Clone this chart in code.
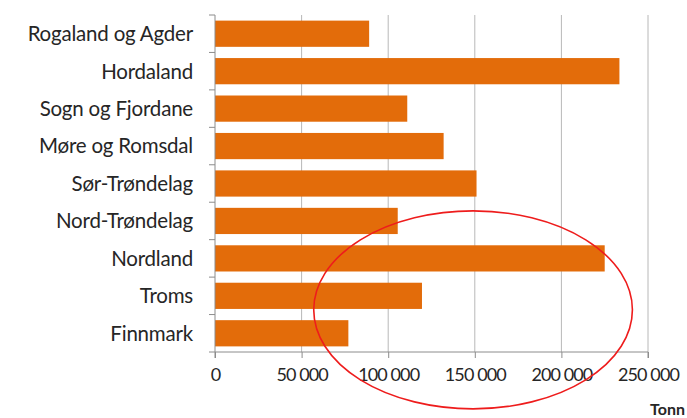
<!DOCTYPE html>
<html>
<head>
<meta charset="utf-8">
<script src="https://cdn.jsdelivr.net/npm/d3@7"></script>
<style>
  body { margin: 0; background: #fff; }
  text { font-family: Lato, "Open Sans", sans-serif; fill: #262626; }
</style>
</head>
<body>
<div id="chart"></div>
<script>
// data
const regions = [
  "Rogaland og Agder",
  "Hordaland",
  "Sogn og Fjordane",
  "Møre og Romsdal",
  "Sør-Trøndelag",
  "Nord-Trøndelag",
  "Nordland",
  "Troms",
  "Finnmark",
]
const tonn = [89000, 233500, 111000, 132000, 151000, 105500, 225000, 119500, 77000]
const xTicks = [0, 50000, 100000, 150000, 200000, 250000]

const width = 687
const height = 418
const margins = { top: 15, right: 39, bottom: 66, left: 215 }

const svg = d3
  .select("#chart")
  .append("svg")
  .attr("width", width)
  .attr("height", height)

const x = d3
  .scaleLinear()
  .domain([0, 250000])
  .range([margins.left, width - margins.right])

const y = d3
  .scaleBand()
  .domain(regions)
  .range([margins.top, height - margins.bottom])
  .paddingInner(0.3)
  .paddingOuter(0.15)

const fmt = (d) => d3.format(",")(d).replace(/,/g, "\u00a0")

// gridlines
svg
  .append("g")
  .selectAll("line")
  .data(xTicks.slice(1))
  .join("line")
  .attr("x1", (d) => x(d))
  .attr("x2", (d) => x(d))
  .attr("y1", margins.top)
  .attr("y2", height - margins.bottom)
  .attr("stroke", "#b8b8b8")
  .attr("stroke-width", 1)

// bars
svg
  .append("g")
  .selectAll("rect")
  .data(regions)
  .join("rect")
  .attr("x", x(0))
  .attr("y", (d) => y(d))
  .attr("width", (d, i) => x(tonn[i]) - x(0))
  .attr("height", y.bandwidth())
  .attr("fill", "#e36c0a")

// left axis, ticks between categories
const plotH = height - margins.bottom - margins.top
const leftAxis = svg.append("g")
leftAxis
  .append("line")
  .attr("x1", x(0))
  .attr("x2", x(0))
  .attr("y1", margins.top)
  .attr("y2", height - margins.bottom)
  .attr("stroke", "#8c8c8c")
leftAxis
  .selectAll(".tk")
  .data(d3.range(regions.length + 1))
  .join("line")
  .attr("class", "tk")
  .attr("x1", x(0) - 6)
  .attr("x2", x(0))
  .attr("y1", (i) => margins.top + (plotH / regions.length) * i)
  .attr("y2", (i) => margins.top + (plotH / regions.length) * i)
  .attr("stroke", "#8c8c8c")

leftAxis
  .selectAll("text")
  .data(regions)
  .join("text")
  .attr("x", 193)
  .attr("y", (d) => y(d) + y.bandwidth() / 2)
  .attr("dy", "0.36em")
  .attr("text-anchor", "end")
  .style("font-size", "20.5px")
  .style("letter-spacing", "-0.2px")
  .text((d) => d)

// bottom axis
const xAxis = d3
  .axisBottom(x)
  .tickValues(xTicks)
  .tickSize(6)
  .tickPadding(10)
  .tickFormat(fmt)

const gx = svg
  .append("g")
  .attr("transform", `translate(0,${height - margins.bottom})`)
  .call(xAxis)
gx.select(".domain").attr("stroke", "#8c8c8c").attr("d", `M${x(0)},6V0H${x(250000)}V6`)
gx.selectAll(".tick line").attr("stroke", "#8c8c8c")
gx.selectAll(".tick text")
  .style("font-size", "18px")
  .style("letter-spacing", "-0.9px")
  .style("font-family", "Lato, sans-serif")
  .attr("fill", "#262626")

// unit label
svg
  .append("text")
  .attr("x", 685)
  .attr("y", height - 3)
  .attr("text-anchor", "end")
  .style("font-size", "16px")
  .style("font-weight", "bold")
  .text("Tonn")

// red annotation ellipse around the northern counties
svg
  .append("ellipse")
  .attr("cx", x(149000))
  .attr("cy", y("Troms") + y.bandwidth() / 2 + 14)
  .attr("rx", x(92000) - x(0))
  .attr("ry", 99)
  .attr("fill", "none")
  .attr("stroke", "#ee1c1c")
  .attr("stroke-width", 1.6)
</script>
</body>
</html>
